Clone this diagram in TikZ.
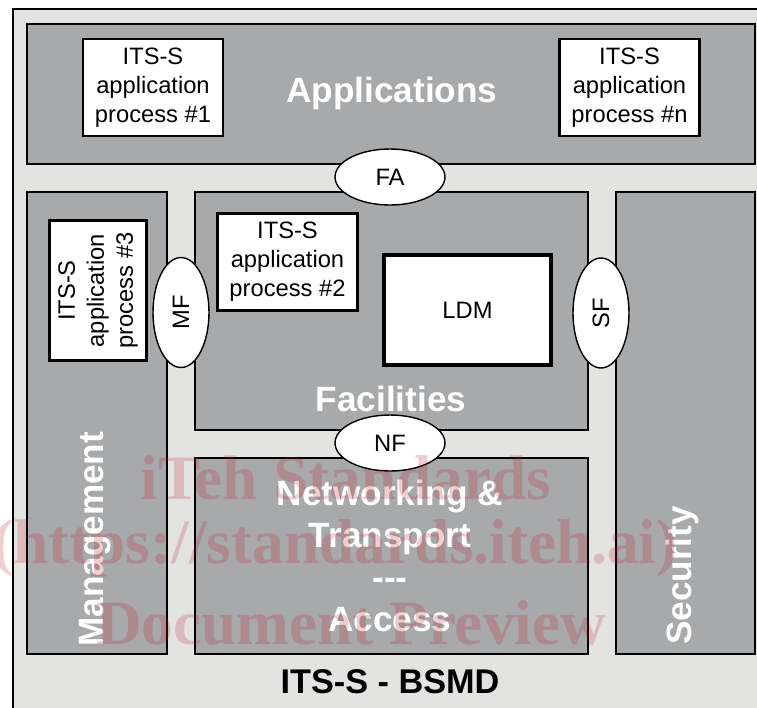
\documentclass[tikz,border=0pt]{standalone}
\usepackage{fontspec}
\setmainfont{Liberation Sans}
\newfontfamily\filigrane{Liberation Serif}
\usetikzlibrary{shapes.geometric}

\definecolor{fond}{HTML}{E3E4E2}
\definecolor{couche}{HTML}{A7A9AB}
\definecolor{rose}{RGB}{190,30,50}

\tikzset{
  bloc/.style={draw=black, line width=0.6pt, fill=couche},
  appli/.style={draw=black, line width=1.3pt, fill=white, align=center, inner sep=0pt,
    font=\fontsize{13.5}{16.5}\selectfont, minimum width=2.8cm, minimum height=1.94cm},
  interf/.style={ellipse, draw=black, line width=0.8pt, fill=white, inner sep=0pt,
    font=\fontsize{13.5}{16}\selectfont, minimum width=2.2cm, minimum height=1.12cm},
  titre/.style={text=white, inner sep=0pt, font=\fontsize{20}{23.8}\selectfont\bfseries},
  filig/.style={text=rose, text opacity=0.22, inner sep=0pt,
    font=\filigrane\fontsize{36}{41}\selectfont\bfseries},
}

\begin{document}
\begin{tikzpicture}[x=0.02cm, y=-0.02cm]
    \useasboundingbox (0,0) rectangle (757,707);
    \clip (0,0) rectangle (757,707);

    % Cadre de la station ITS
    \draw[fill=fond, line width=0.8pt] (13,9) rectangle (780,730);

    % Couches de l'architecture
    \draw[bloc] (27,24) rectangle (755,164);
    \draw[bloc] (27,192) rectangle (167,654);
    \draw[bloc] (195,192) rectangle (588,430);
    \draw[bloc] (195,458) rectangle (588,654);
    \draw[bloc] (616,192) rectangle (755,654);

    % Noms des couches
    \node[titre] (applis) at (392,93) {Applications};
    \node[titre] (facil) at (391,399) {Facilities};
    \node[titre, align=center] (reseau) at (390,556) {Networking \&\\Transport\\{-}{-}{-}\\Access};
    \node[titre, rotate=90, anchor=west] (gestion) at (95,647) {Management};
    \node[titre, rotate=90, anchor=west] (secu) at (682,645) {Security};

    % Processus applicatifs
    \node[appli] (ap1) at (153,87.5) {ITS-S\\application\\process \#1};
    \node[appli] (apn) at (629.5,87.5) {ITS-S\\application\\process \#n};
    \node[appli] (ap2) at (287.5,262) {ITS-S\\application\\process \#2};
    \node[appli, rotate=90] (ap3) at (98,290.5) {ITS-S\\application\\process \#3};

    % LDM
    \node[draw=black, line width=2.6pt, fill=white, minimum width=3.34cm, minimum height=2.2cm,
      font=\fontsize{13.5}{16}\selectfont] (ldm) at (467.5,310) {LDM};

    % Interfaces entre couches
    \node[interf] (fa) at (390,177) {FA};
    \node[interf] (nf) at (390,443) {NF};
    \node[interf, rotate=90] (mf) at (181,312.5) {MF};
    \node[interf, rotate=90] (sf) at (601,313) {SF};

    % Titre
    \node[font=\fontsize{19.5}{22}\selectfont\bfseries] (bsmd) at (390,682) {ITS-S - BSMD};

    % Filigrane
    \node[filig] (fil1) at (346,478) {iTeh Standards};
    \node[filig] (fil2) at (335,548) {(https://standards.iteh.ai)};
    \node[filig] (fil3) at (351,623) {Document Preview};
\end{tikzpicture}
\end{document}
